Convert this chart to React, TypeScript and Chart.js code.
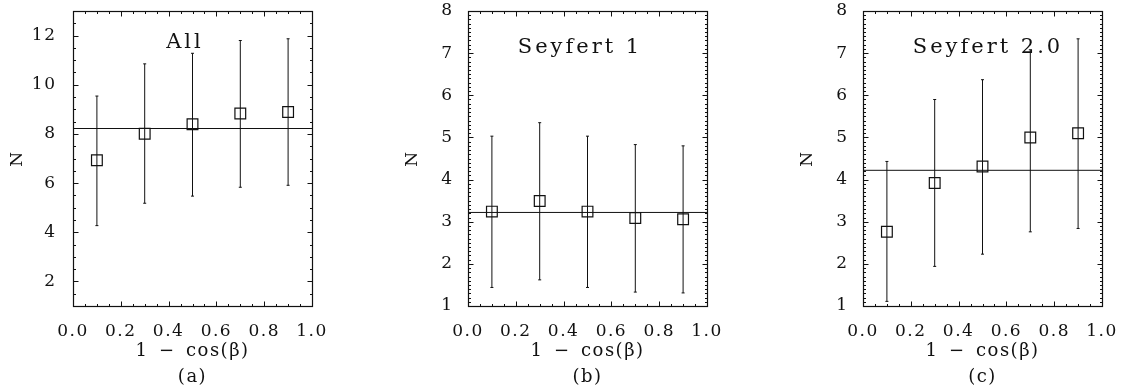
import React, { useEffect, useRef } from "react";
import { Chart, registerables } from "chart.js";

Chart.register(...registerables);

// ---------- data ----------
const xCategories = [0.1, 0.3, 0.5, 0.7, 0.9];
const xTickLabels = [0, 0.2, 0.4, 0.6, 0.8, 1.0];

const allValues = [6.93, 8.01, 8.39, 8.83, 8.89];
const allLower = [4.27, 5.18, 5.47, 5.83, 5.91];
const allUpper = [9.54, 10.85, 11.28, 11.8, 11.87];
const allMean = 8.22;
const allYTicks = [2, 4, 6, 8, 10, 12];

const sy1Values = [3.24, 3.49, 3.24, 3.09, 3.06];
const sy1Lower = [1.44, 1.62, 1.44, 1.33, 1.31];
const sy1Upper = [5.03, 5.35, 5.03, 4.83, 4.8];
const sy1Mean = 3.22;

const sy2Values = [2.76, 3.92, 4.31, 5.0, 5.1];
const sy2Lower = [1.11, 1.94, 2.23, 2.76, 2.84];
const sy2Upper = [4.43, 5.9, 6.37, 7.08, 7.34];
const sy2Mean = 4.22;

const seyYTicks = [1, 2, 3, 4, 5, 6, 7, 8];

const xAxisTitle = "1\u2002\u2212\u2002cos(\u03B2)";
const yAxisTitle = "N";

const FONT = '"DejaVu Serif", "Liberation Serif", serif';
const INK = "#111";

type Panel = {
  title: string;
  sub: string;
  values: number[];
  lower: number[];
  upper: number[];
  mean: number;
  yMin: number;
  yMax: number;
  yTicks: number[];
  yMinor: number;
  xMinor: number;
  titleDX: number;
  titleDY: number;
  yPad: number;
  left: number;
};

const panels: Panel[] = [
  { title: "All", sub: "(a)", values: allValues, lower: allLower, upper: allUpper, mean: allMean,
    yMin: 1, yMax: 13, yTicks: allYTicks, yMinor: 0.5, xMinor: 0.05, titleDX: 112, titleDY: 37, yPad: 8.5, left: 0 },
  { title: "Seyfert 1", sub: "(b)", values: sy1Values, lower: sy1Lower, upper: sy1Upper, mean: sy1Mean,
    yMin: 1, yMax: 8, yTicks: seyYTicks, yMinor: 0.1, xMinor: 0.05, titleDX: 112, titleDY: 42, yPad: 6.5, left: 395 },
  { title: "Seyfert 2.0", sub: "(c)", values: sy2Values, lower: sy2Lower, upper: sy2Upper, mean: sy2Mean,
    yMin: 1, yMax: 8, yTicks: seyYTicks, yMinor: 0.1, xMinor: 0.05, titleDX: 125, titleDY: 42, yPad: 6.5, left: 790 },
];

function makeFramePlugin(p: Panel) {
  return {
    id: "frameTicks",
    beforeDraw(chart: any) {
      (chart.ctx as any).letterSpacing = "1.5px";
    },
    afterDraw(chart: any) {
      const { ctx, chartArea: ca, scales } = chart;
      const xs = scales.x;
      const ys = scales.y;
      ctx.save();
      ctx.strokeStyle = INK;
      ctx.lineWidth = 1.2;
      const L = Math.round(ca.left) + 0.5;
      const R = Math.round(ca.right) + 0.5;
      const T = Math.round(ca.top) + 0.5;
      const B = Math.round(ca.bottom) + 0.5;
      ctx.strokeRect(L, T, R - L, B - T);
      ctx.lineWidth = 1;
      const isMajor = (v: number, majors: number[]) => majors.some((m) => Math.abs(m - v) < 1e-6);
      const nx = Math.round((xs.max - xs.min) / p.xMinor);
      for (let i = 0; i <= nx; i++) {
        const v = xs.min + i * p.xMinor;
        const px = Math.round(xs.getPixelForValue(v)) + 0.5;
        const len = isMajor(v, xTickLabels) ? 5 : 2.5;
        ctx.beginPath();
        ctx.moveTo(px, B); ctx.lineTo(px, B - len);
        ctx.moveTo(px, T); ctx.lineTo(px, T + len);
        ctx.stroke();
      }
      const ny = Math.round((ys.max - ys.min) / p.yMinor);
      for (let i = 0; i <= ny; i++) {
        const v = ys.min + i * p.yMinor;
        const py = Math.round(ys.getPixelForValue(v)) + 0.5;
        const len = isMajor(v, p.yTicks) ? 5 : 2.5;
        ctx.beginPath();
        ctx.moveTo(L, py); ctx.lineTo(L + len, py);
        ctx.moveTo(R, py); ctx.lineTo(R - len, py);
        ctx.stroke();
      }
      ctx.fillStyle = INK;
      ctx.font = `21px ${FONT}`;
      (ctx as any).letterSpacing = "3px";
      ctx.textAlign = "center";
      ctx.textBaseline = "alphabetic";
      ctx.fillText(p.title, ca.left + p.titleDX, ca.top + p.titleDY);
      ctx.restore();
    },
  };
}

function PanelChart({ p }: { p: Panel }) {
  const ref = useRef<HTMLCanvasElement | null>(null);
  useEffect(() => {
    if (!ref.current) return;
    const errData: any[] = [];
    xCategories.forEach((x, i) => {
      errData.push({ x, y: p.lower[i] }, { x, y: p.upper[i] }, { x, y: null });
    });
    const chart = new Chart(ref.current, {
      type: "line",
      data: {
        datasets: [
          {
            data: xCategories.map((x, i) => ({ x, y: p.values[i] })),
            showLine: false,
            pointStyle: "rect",
            pointRadius: 7.6,
            pointBorderWidth: 1.2,
            pointBorderColor: INK,
            pointBackgroundColor: "rgba(0,0,0,0)",
          },
          {
            data: errData,
            borderColor: INK,
            borderWidth: 1,
            spanGaps: false,
            pointStyle: "line",
            pointRadius: 1.5,
            pointBorderWidth: 1,
            pointBorderColor: INK,
          },
          {
            data: [{ x: 0, y: p.mean }, { x: 1, y: p.mean }],
            borderColor: INK,
            borderWidth: 1,
            pointRadius: 0,
          },
        ],
      } as any,
      options: {
        animation: false,
        responsive: false,
        maintainAspectRatio: false,
        events: [],
        layout: { padding: { top: 11, right: 20, bottom: 0, left: 0 } },
        plugins: {
          legend: { display: false },
          tooltip: { enabled: false },
        },
        scales: {
          x: {
            type: "linear",
            min: 0,
            max: 1,
            afterBuildTicks: (s: any) => { s.ticks = xTickLabels.map((v) => ({ value: v })); },
            afterFit: (s: any) => { s.height = 84; s.paddingLeft = 0; s.paddingRight = 0; },
            grid: { display: false },
            border: { display: false },
            ticks: {
              autoSkip: false,
              maxRotation: 0,
              padding: 7,
              color: INK,
              font: { family: FONT, size: 17 },
              callback: (v: any) => Number(v).toFixed(1),
            },
            title: {
              display: true,
              text: [xAxisTitle, p.sub],
              color: INK,
              font: { family: FONT, size: 18, lineHeight: "26px" },
              padding: { top: 0, bottom: 0 },
            },
          },
          y: {
            type: "linear",
            min: p.yMin,
            max: p.yMax,
            afterBuildTicks: (s: any) => { s.ticks = p.yTicks.map((v) => ({ value: v })); },
            afterFit: (s: any) => { s.width = 73; s.paddingTop = 0; s.paddingBottom = 0; },
            grid: { display: false },
            border: { display: false },
            ticks: {
              autoSkip: false,
              padding: p.yPad,
              color: INK,
              font: { family: FONT, size: 17 },
            },
            title: {
              display: true,
              text: yAxisTitle,
              color: INK,
              font: { family: FONT, size: 17 },
              padding: { top: 7, bottom: 0 },
            },
          },
        },
      } as any,
      plugins: [makeFramePlugin(p) as any],
    });
    return () => chart.destroy();
  }, [p]);
  return (
    <canvas
      ref={ref}
      width={332}
      height={390}
      style={{ position: "absolute", left: p.left, top: 0, width: 332, height: 390, display: "block" }}
    />
  );
}

export default function App() {
  return (
    <div style={{ position: "absolute", left: 0, top: 0, width: 1122, height: 390, background: "#fff", overflow: "hidden" }}>
      {panels.map((p) => (
        <PanelChart key={p.sub} p={p} />
      ))}
    </div>
  );
}
